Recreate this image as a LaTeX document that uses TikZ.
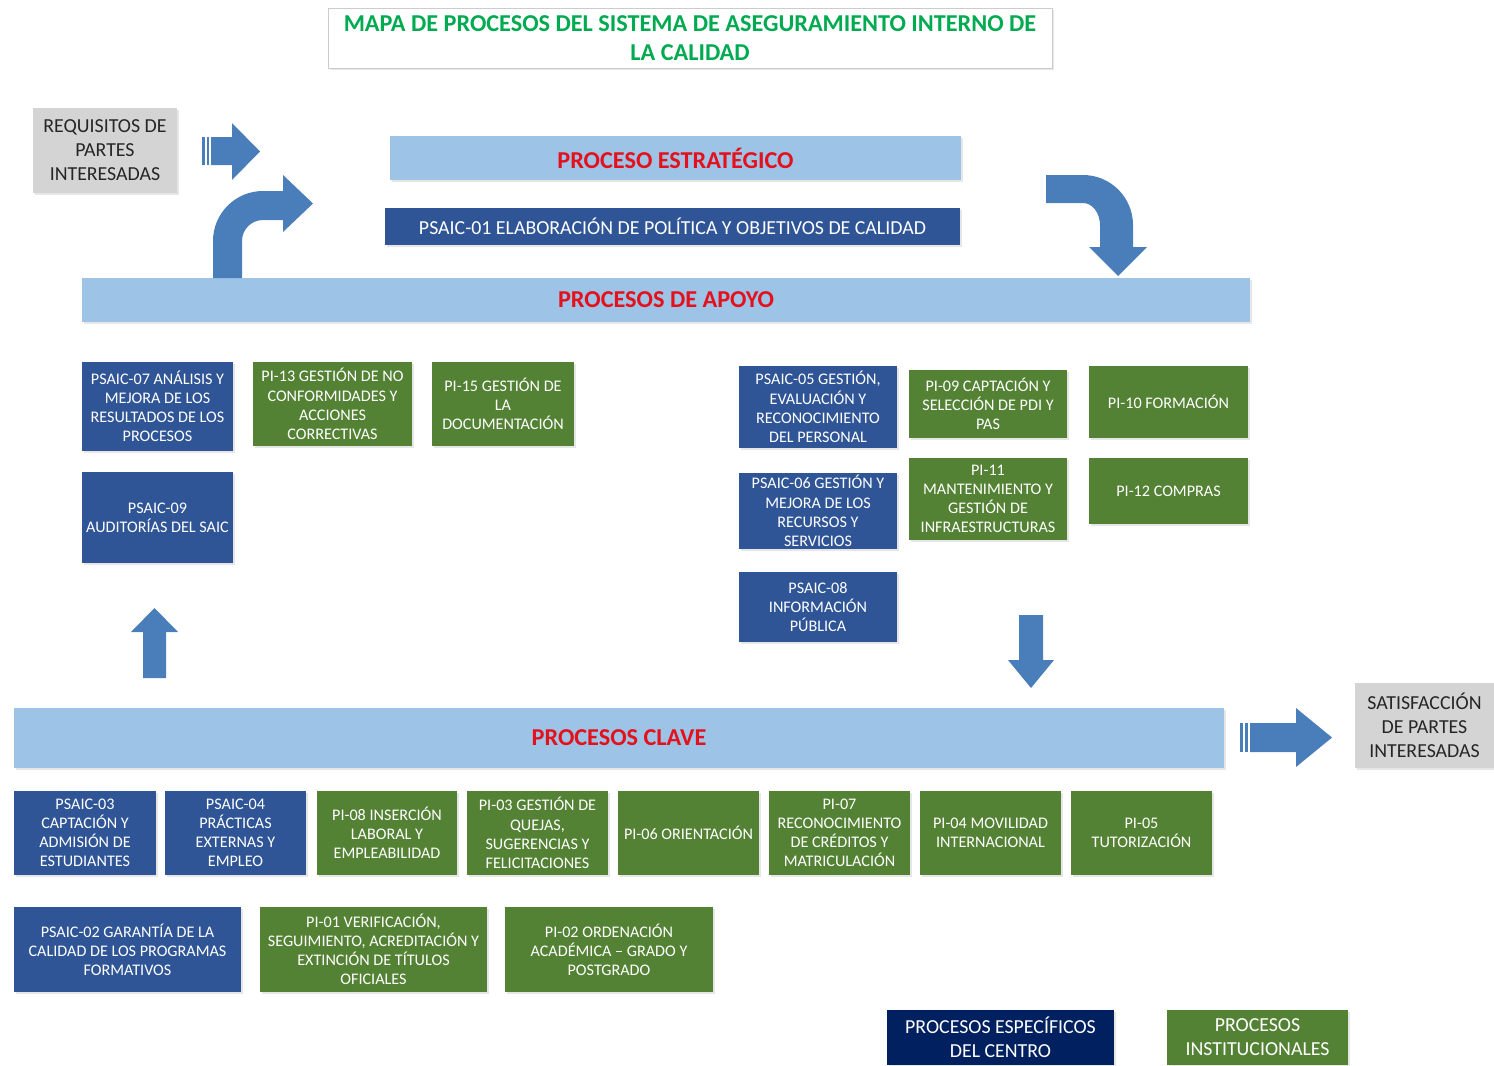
\documentclass[tikz,border=0pt]{standalone}
\usepackage{fontspec}
\setmainfont{Carlito}
\usetikzlibrary{shadows}
\definecolor{barblue}{RGB}{157,195,230}
\definecolor{boxblue}{RGB}{47,85,151}
\definecolor{boxgreen}{RGB}{84,130,53}
\definecolor{boxnavy}{RGB}{0,32,96}
\definecolor{boxgray}{RGB}{212,212,212}
\definecolor{arrowblue}{RGB}{74,126,187}
\definecolor{textred}{RGB}{228,16,28}
\definecolor{titlegreen}{RGB}{0,170,80}
\tikzset{
	every node/.style={inner sep=0pt,align=center,shape=rectangle},
	box/.style={drop shadow={shadow xshift=1pt,shadow yshift=-1pt,opacity=0.2}},
	wh/.style 2 args={minimum width=#1*0.02cm,minimum height=#2*0.02cm},
	small-text/.style={text=white,font=\fontsize{9.2}{10.9}\selectfont},
	blue-box/.style={box,fill=boxblue,small-text},
	green-box/.style={box,fill=boxgreen,small-text},
	bar/.style={box,fill=barblue,text=textred,font=\bfseries\fontsize{13.8}{16.4}\selectfont},
	gray-box/.style={box,fill=boxgray,text=black!85,font=\fontsize{11.3}{13.6}\selectfont},
	legend-box/.style={box,text=white,font=\fontsize{11.3}{13.6}\selectfont},
}
\tikzstyle{blockarrow} = [fill=arrowblue,draw=none]

\begin{document}
\begin{tikzpicture}[x=0.02cm,y=-0.02cm]
	\useasboundingbox (0,0) rectangle (1494,1065);
	% title
	\node[box,fill=white,draw=black!20,wh={724}{60},text=titlegreen,font=\bfseries\fontsize{13.8}{16.4}\selectfont] (title) at (690,38) {MAPA DE PROCESOS DEL SISTEMA DE ASEGURAMIENTO INTERNO DE\\LA CALIDAD};
	
	\node[gray-box,wh={144}{85}] (req) at (105,150.5) {REQUISITOS DE\\PARTES\\INTERESADAS};
	\node[gray-box,wh={139}{85}] (sat) at (1424.5,725.5) {SATISFACCIÓN\\DE PARTES\\INTERESADAS};
	
	% estrategico
	\node[bar,wh={571}{44}] (estr) at (675.5,158) {PROCESO ESTRATÉGICO};
	\node[box,fill=boxblue,text=white,font=\fontsize{11.3}{13.6}\selectfont,wh={575}{37}] (ps01) at (672.5,226.5) {PSAIC-01 ELABORACIÓN DE POLÍTICA Y OBJETIVOS DE CALIDAD};
	
	% apoyo
	\node[bar,wh={1168}{44}] (apoyo) at (666,300) {PROCESOS DE APOYO};
	\node[blue-box,wh={151}{89}] (ps07) at (157.5,406.5) {PSAIC-07 ANÁLISIS Y\\MEJORA DE LOS\\RESULTADOS DE LOS\\PROCESOS};
	\node[green-box,wh={159}{84}] (pi13) at (332.5,404) {PI-13 GESTIÓN DE NO\\CONFORMIDADES Y\\ACCIONES\\CORRECTIVAS};
	\node[green-box,wh={142}{84}] (pi15) at (503,404) {PI-15 GESTIÓN DE\\LA\\DOCUMENTACIÓN};
	\node[blue-box,wh={151}{91}] (ps09) at (157.5,517.5) {PSAIC-09\\AUDITORÍAS DEL SAIC};
	\node[blue-box,wh={158}{82}] (ps05) at (818,407) {PSAIC-05 GESTIÓN,\\EVALUACIÓN Y\\RECONOCIMIENTO\\DEL PERSONAL};
	\node[green-box,wh={158}{68}] (pi09) at (988,404) {PI-09 CAPTACIÓN Y\\SELECCIÓN DE PDI Y\\PAS};
	\node[green-box,wh={159}{72}] (pi10) at (1168.5,402) {PI-10 FORMACIÓN};
	\node[blue-box,wh={158}{76}] (ps06) at (818,511) {PSAIC-06 GESTIÓN Y\\MEJORA DE LOS\\RECURSOS Y\\SERVICIOS};
	\node[green-box,wh={158}{82}] (pi11) at (988,499) {PI-11\\MANTENIMIENTO Y\\GESTIÓN DE\\INFRAESTRUCTURAS};
	\node[green-box,wh={159}{66}] (pi12) at (1168.5,491) {PI-12 COMPRAS};
	\node[blue-box,wh={158}{70}] (ps08) at (818,607) {PSAIC-08\\INFORMACIÓN\\PÚBLICA};
	
	% clave
	\node[bar,wh={1210}{60}] (clave) at (619,738) {PROCESOS CLAVE};
	\node[blue-box,wh={142}{84}] (ps03) at (85,833) {PSAIC-03\\CAPTACIÓN Y\\ADMISIÓN DE\\ESTUDIANTES};
	\node[blue-box,wh={141}{84}] (ps04) at (235.5,833) {PSAIC-04\\PRÁCTICAS\\EXTERNAS Y\\EMPLEO};
	\node[green-box,wh={140}{84}] (pi08) at (387,833) {PI-08 INSERCIÓN\\LABORAL Y\\EMPLEABILIDAD};
	\node[green-box,wh={141}{84}] (pi03) at (537.5,833) {PI-03 GESTIÓN DE\\QUEJAS,\\SUGERENCIAS Y\\FELICITACIONES};
	\node[green-box,wh={141}{84}] (pi06) at (688.5,833) {PI-06 ORIENTACIÓN};
	\node[green-box,wh={141}{84}] (pi07) at (839.5,833) {PI-07\\RECONOCIMIENTO\\DE CRÉDITOS Y\\MATRICULACIÓN};
	\node[green-box,wh={141}{84}] (pi04) at (990.5,833) {PI-04 MOVILIDAD\\INTERNACIONAL};
	\node[green-box,wh={141}{84}] (pi05) at (1141.5,833) {PI-05\\TUTORIZACIÓN};
	\node[blue-box,wh={227}{85}] (ps02) at (127.5,949.5) {PSAIC-02 GARANTÍA DE LA\\CALIDAD DE LOS PROGRAMAS\\FORMATIVOS};
	\node[green-box,wh={227}{85}] (pi01) at (373.5,949.5) {PI-01 VERIFICACIÓN,\\SEGUIMIENTO, ACREDITACIÓN Y\\EXTINCIÓN DE TÍTULOS\\OFICIALES};
	\node[green-box,wh={208}{85}] (pi02) at (609,949.5) {PI-02 ORDENACIÓN\\ACADÉMICA – GRADO Y\\POSTGRADO};
	
	% legend
	\node[legend-box,fill=boxnavy,wh={227}{55}] (leg1) at (1000.5,1037.5) {PROCESOS ESPECÍFICOS\\DEL CENTRO};
	\node[legend-box,fill=boxgreen,wh={181}{55}] (leg2) at (1257.5,1037.5) {PROCESOS\\INSTITUCIONALES};
	
	% block arrows
	\fill[blockarrow] (202,137) rectangle (205,165);
	\fill[blockarrow] (207,137) rectangle (209,165);
	\fill[blockarrow] (211,137) -- (232,137) -- (232,123) -- (260,151.5) -- (232,180) -- (232,165) -- (211,165) -- cycle;
	\fill[blockarrow] (213,278) -- (213,241) .. controls (213,213.4) and (235.4,191) .. (263,191) -- (283,191) -- (283,175) -- (313,203.5) -- (283,232) -- (283,220) -- (263,220) .. controls (251.4,220) and (242,229.4) .. (242,241) -- (242,278) -- cycle;
	\fill[blockarrow] (1046,175) -- (1083,175) .. controls (1110.6,175) and (1133,197.4) .. (1133,225) -- (1133,247) -- (1147,247) -- (1118,276) -- (1089,247) -- (1100,247) -- (1100,225) .. controls (1100,212.9) and (1092.4,203) .. (1083,203) -- (1046,203) -- cycle;
	\fill[blockarrow] (143,678) -- (143,632) -- (131,632) -- (154.5,608) -- (178,632) -- (166,632) -- (166,678) -- cycle;
	\fill[blockarrow] (1019,615) -- (1043,615) -- (1043,660) -- (1054,660) -- (1031,688) -- (1008,660) -- (1019,660) -- cycle;
	\fill[blockarrow] (1240,723) rectangle (1243,752);
	\fill[blockarrow] (1245,723) rectangle (1248,752);
	\fill[blockarrow] (1250,723) -- (1296,723) -- (1296,708) -- (1332,737.5) -- (1296,767) -- (1296,752) -- (1250,752) -- cycle;
\end{tikzpicture}
\end{document}
